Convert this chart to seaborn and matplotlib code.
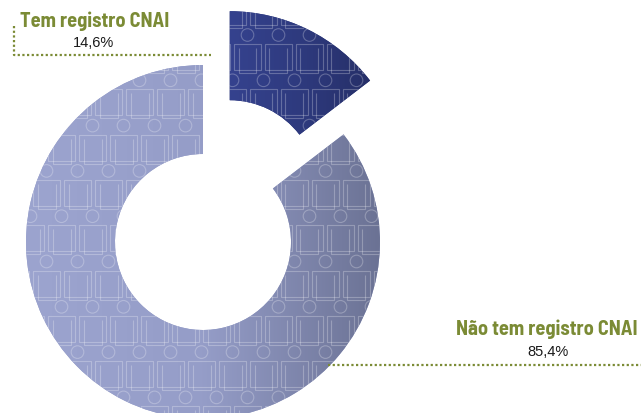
import numpy as np
import matplotlib
matplotlib.use("Agg")
import matplotlib.pyplot as plt
from matplotlib.patches import Circle, Rectangle
from matplotlib.collections import PatchCollection, LineCollection
import seaborn as sns

# data
labels = ["Tem registro CNAI", "Não tem registro CNAI"]
shares = [14.6, 85.4]
share_text = ["14,6%", "85,4%"]

GREEN = "#7B8B35"
W, H = 641, 414

sns.set_theme(style="white")
plt.rcParams["font.family"] = ["Liberation Sans", "DejaVu Sans"]

fig = plt.figure(figsize=(W / 100, H / 100), dpi=100)
ax = fig.add_axes([0, 0, 1, 1])

# donut, first slice pulled out
wedges, _ = ax.pie(shares, startangle=90, counterclock=False, radius=177,
                   center=(203, 171), explode=[60, 0],
                   wedgeprops=dict(width=89, linewidth=0))

grads = [["#35428E", "#2E3A7E", "#262F68"],
         ["#9CA4CF", "#959DC8", "#6B7294"]]


def icon_pattern(clip):
    # tiled "person" icons, fixed to the page
    heads, bodies, segs = [], [], []
    for k in range(-1, 10):
        yh = 36 + 45.3 * k
        x0 = 30.5 if k % 2 == 0 else 15.5
        for j in range(-1, 22):
            xh = x0 + 31 * j
            heads.append(Circle((xh, H - yh), 6.3))
            bodies.append(Rectangle((xh - 13.5, H - (yh + 35)), 27, 26))
            segs.append([(xh - 9, H - (yh + 13)), (xh - 9, H - (yh + 38)),
                         (xh + 9, H - (yh + 38)), (xh + 9, H - (yh + 13))])
    pc = PatchCollection(heads + bodies, facecolor="none",
                         edgecolor=(1, 1, 1, 0.26), linewidth=0.8, zorder=3)
    lc = LineCollection(segs, colors=[(1, 1, 1, 0.26)], linewidths=0.8, zorder=3)
    for art in (pc, lc):
        ax.add_collection(art)
        art.set_clip_path(clip)


for w, cols in zip(wedges, grads):
    w.set_facecolor(cols[1])
    bb = w.get_path().get_extents(w.get_patch_transform())
    cmap = sns.blend_palette(cols, as_cmap=True)
    grad = np.tile(np.linspace(0, 1, 256), (2, 1))
    im = ax.imshow(grad, cmap=cmap, aspect="auto", interpolation="bilinear",
                   extent=(bb.x0, bb.x1, bb.y0, bb.y1), zorder=2)
    im.set_clip_path(w)
    icon_pattern(w)

# labels with dotted leaders
title_font = dict(family=["Barlow Semi Condensed", "Asap Condensed", "Liberation Sans", "DejaVu Sans"],
                  fontweight="bold", color=GREEN, fontsize=14.6)
dots = dict(color=GREEN, linewidth=1.6, linestyle=(0, (1, 1.1)))

ax.text(20, H - 21, labels[0], ha="left", va="center", **title_font)
ax.text(93, H - 43, share_text[0], ha="center", va="center", fontsize=10.5, color="#1a1a1a")
ax.plot([14, 14, 211], [H - 27, H - 56, H - 56], **dots)

ax.text(638, H - 329, labels[1], ha="right", va="center", **title_font)
ax.text(548, H - 352, share_text[1], ha="center", va="center", fontsize=10.5, color="#1a1a1a")
ax.plot([328, 641], [H - 366, H - 366], **dots)

ax.set_xlim(0, W)
ax.set_ylim(0, H)
ax.set_aspect("equal")
ax.axis("off")

fig.savefig("out.png", dpi=100)
